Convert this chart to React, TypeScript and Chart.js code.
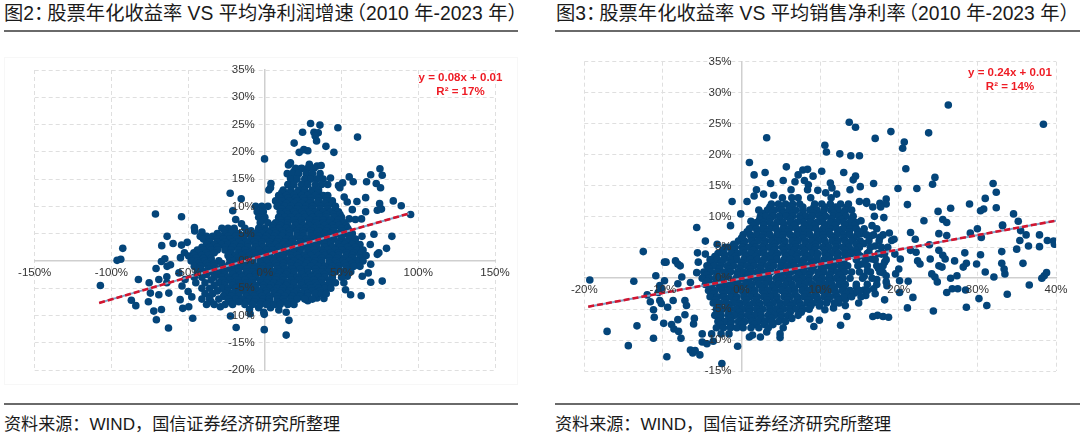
import React, { useEffect, useRef } from "react";
import { Chart, registerables } from "chart.js";

Chart.register(...registerables);

// ---- Figure 2: x = average net-profit growth (%), y = annualised return (%)
const leftScattered: number[][] = [
  [29.8,25.2],[35.9,24.9],[24.6,23.6],[47.6,24.4],[60.4,22.7],[32,23.6],[34.8,23.5],[32.8,22.9],[33.7,22],[39.8,21],[19.1,21.6],[45,19.9],[22.4,19.9],[25.4,20.4],[28,20.2],[-0.2,18.7],[16.7,18],[15.4,17.6],[34,17.4],[36.7,17.5],[29,17.7],
  [75,16.9],[76.5,15.7],[69,15.8],[66.3,14.5],[72.6,14.2],[75.4,13.4],[55,15.4],[57.6,14.5],[50.7,14.3],[48,13.8],[48.9,13.4],[42.8,15.2],[14.6,16],[18.9,16.4],[23.3,16.9],[16.7,15.2],[4,14.2],[3.7,13.4],[2.6,13],[-22.6,12.4],[-15.4,11.4],[-20.9,9.2],[-19,7.6],[-15.2,6.8],
  [-71.3,8.6],[-54.3,8.1],[-45.9,6.1],[-45.7,5.5],[-41,5.3],[-42.1,4.5],[-63.7,4.5],[-59.8,3.2],[-67.2,2.8],[-54.3,2.9],[-50.6,3.4],[-92.6,2.3],[-93.9,0.3],[-96.3,0.1],[-107.2,-4.5],[-82.4,-3.4],[-75.4,-4],[-70.9,-1.4],[-65.2,0.4],[-67.4,-0.1],[-63.7,-1],[-61.5,-0.7],[-69.1,-3.4],[-63.9,-2.9],[-63.9,-4],[-74.6,-5.9],[-69.1,-6.2],[-62.6,-5.9],[-87,-7.2],[-84.1,-8.2],[-75.9,-7.5],[-72.4,-9.2],[-67.4,-8.9],[-70.7,-10.8],[-62.8,-12.3],[-47,-10.5],[-55.2,-7.1],[-53.5,-8.7],[-49.6,-8.4],[-55,0.6],[-52.4,1.5],[-49.6,0.9],[-46.3,1.5],[-56,-2.2],[-52,-3.4],[-54,-4.6],[-50,-5.6],[-47.6,-6.6],
  [-22.4,-10.1],[-10,-8.9],[-9.6,-9.7],[-18.7,-12.2],[-0.7,-9.4],[-0.4,-9.8],[-0.4,-12.6],[13.9,-13.6],[15.7,-10.9],[13.9,-9.4],[9.1,-9],[3.7,-8.6],[-4,-8.6],[-29,-8.4],
  [95,8.5],[88.9,10.1],[83.7,11],[74.8,10.5],[73.3,9.3],[76,9.5],[65.7,11.6],[60,10.9],[51.7,11.7],[53.7,10.8],[57,9.4],[65.7,9],[63,7.7],[59,7.6],[55,7.7],[71.1,4.9],[63.3,4.5],[82.8,4.5],[79.3,2.3],[68.7,3],[73.3,1.2],[74.3,1.5],[69,-0.6],[67.4,-2.2],[63.5,-2.8],[55,-0.7],[59,-0.4],[69,-3.9],[76.5,-3.7],[62.8,-6.4],[55.9,-6.2],[52.6,-5.3],[51.5,-4],[53.7,-2.8],[38.5,-6.9],[34,-6.8],[28,-7.3],[22,-6.5],
];
// dense cloud, read as rows: first number is the return, the rest are growth values
const leftCloud: number[][] = [
  [17,20,24,28,32],
  [16,18,22,27,31,36],
  [15,17,21,26,30,34,38],
  [14,15,19,24,28,33,37,41],
  [13,12,17,22,26,31,35],
  [12.5,11,16,21,26,30,35],
  [12,9,14,19,24,28,33,38,41],
  [11.5,10,15,20,25,30,35,40],
  [11,7,11,16,21,26,30,35,40,44],
  [10.5,9,14,19,24,29,34,39,44],
  [10,-6,-2,2,8,13,17,22,27,31,36,41,46],
  [9.5,11,16,21,26,31,36,41,46],
  [9,-5,-1,10,14,19,24,29,33,38,43,48],
  [8.5,11,15,20,25,30,35,40,45,49],
  [8,-4,0,9,13,17,22,26,31,36,40,45,50],
  [7.5,-1,10,15,19,24,29,34,38,43,48],
  [7,-3,2,7,11,15,20,24,29,33,38,42,47,52],
  [6.5,5,10,15,20,25,29,34,39,44,48,53],
  [6,-28,-24,-20,-13,-4,0,5,9,14,18,23,27,32,36,41,45,50,54],
  [5.5,-26,-20,-9,-4,1,6,11,16,21,25,30,35,40,45,50,55],
  [5,-31,-26,-22,-17,-12,-7,-2,3,7,12,16,21,25,30,34,39,43,48,53,57],
  [4.5,-38,-34,-29,-24,-19,-14,-9,-4,1,6,11,16,21,25,30,35,40,45,50,55],
  [4,-40,-36,-31,-27,-23,-18,-14,-9,-5,0,5,9,14,18,23,27,32,36,41,45,50,55,59],
  [3.5,-36,-31,-26,-21,-17,-12,-7,-2,3,8,13,18,23,28,33,38,43,48,53,58],
  [3,-38,-33,-28,-24,-20,-15,-11,-6,-2,3,7,12,16,21,25,30,34,39,43,48,52,57,62],
  [2.5,-41,-36,-31,-26,-21,-16,-11,-6,-1,4,9,14,19,24,29,34,39,44,49,54,59],
  [2,-44,-40,-35,-31,-26,-22,-17,-13,-8,-4,1,5,10,14,19,23,28,32,37,41,46,50,55,60,64],
  [1.5,-43,-38,-33,-22,-17,-12,-7,-2,3,8,13,18,23,28,33,38,43,48,53,58,63],
  [1,-46,-41,-37,-24,-19,-15,-10,-6,-1,3,8,12,17,21,26,30,35,39,44,48,53,57,62,66],
  [0.5,-45,-40,-35,-23,-18,-13,-8,-3,2,7,12,17,22,27,32,37,42,47,52,57,62],
  [0,-48,-44,-39,-35,-30,-21,-17,-12,-8,-3,1,6,10,15,19,24,28,33,37,42,46,51,55,60,64],
  [-0.5,-43,-38,-33,-28,-23,-18,-13,-8,-3,2,7,12,17,22,27,32,37,42,47,52,57],
  [-1,-46,-42,-37,-33,-28,-24,-19,-15,-10,-6,-1,3,8,12,17,21,26,30,35,39,44,48,53,58,62],
  [-1.5,-42,-37,-32,-27,-22,-17,-12,-7,-2,3,8,13,18,23,28,33,38,43,48,53],
  [-2,-44,-39,-35,-30,-26,-21,-17,-12,-8,-3,1,6,10,15,19,24,28,33,37,42,46,51,56],
  [-2.5,-38,-31,-26,-21,-16,-11,-6,-1,4,9,14,19,24,29,34,39,44],
  [-3,-46,-41,-33,-28,-24,-19,-15,-10,-6,-1,3,8,12,17,21,26,30,35,39,44,50],
  [-3.5,-35,-28,-23,-18,-13,-8,-3,2,7,12,17,22,27,32,37,42],
  [-4,-45,-39,-30,-26,-21,-17,-12,-8,-3,1,6,10,15,19,24,28,33,37,42,46],
  [-4.5,-33,-26,-21,-16,-11,-6,-1,4,9,14,19,24,29,34,39],
  [-5,-41,-36,-28,-24,-19,-15,-10,-6,-1,3,8,12,17,21,26,30,35,39,43],
  [-5.5,-31,-24,-19,-14,-9,-4,1,6,11,16,21,26,31,36],
  [-6,-39,-34,-26,-21,-17,-12,-8,-3,1,6,10,15,19,24,28,33,37,40],
  [-6.5,-36,-27,-22,-17,-12,-7,-2,3,8,13,18,23,28],
  [-7,-41,-36,-30,-24,-19,-15,-10,-6,-1,3,8,12,17,21,26,31],
  [-7.5,-35,-23,-17,-12,-7,-2,3,8,13,17],
  [-8,-38,-33,-26,-21,-13,-8,-3,1,6,10,15,19],
];
const leftTrendX = [-108, 94];
const leftTrendY = [-7.7, 8.7];

// ---- Figure 3: x = average net sales margin (%), y = annualised return (%)
const rightScattered: number[][] = [
  [26.3,28],[38.4,24.9],[3.2,22.7],[13.7,25.2],[14.5,24.4],[19,23.7],[23.8,23.5],[17,22.6],[20.7,22],[20.5,21],[10.6,21.5],[10.8,20.4],[12.5,20.1],[13.9,19.8],[15,19.8],[1,18.7],[5.7,18],[3,17.1],[1.6,16.7],[20.9,17.7],[7.2,16.7],[7.8,17.5],[8.4,17.6],[10.2,17.3],[13,17.1],[9.1,16.5],[14.5,16.5],[14.2,15.9],[24.6,16.3],[24.3,15.2],[32,15.3],[16.8,15.3],[3.7,15.3],[5.3,15.8],[6.8,15.6],[8,15.8],[8.5,15.1],[11.3,15.4],[15.1,14.8],[19.9,14.5],[22.3,14.5],[32.4,13.9],[31,12.9],[1.9,14.3],[1.6,13.3],[2.8,13.6],[4.1,13.4],[6.3,14.3],[8.4,14.3],[9.7,14.2],[10.7,13.8],[11.5,14.6],[12.1,13.6],[13.8,14.3],
  [-1.2,12.4],[0.7,12.4],[-0.1,10.4],[15,12.4],[15.9,12.4],[15.9,12.1],[18.4,12.8],[18.4,12],[17.6,12.1],[16.7,11.5],[17.7,11.5],[21.1,11.9],[26.6,11.3],[29,12],[30.8,11.2],[30.4,10.9],[32.4,11.4],[25,10.8],[16.9,10],[18.1,9.8],[15.2,9.3],[23.2,9.3],[25.6,9.5],[26.1,9],[34.6,10.4],[35.2,9.2],[33.2,8.6],[16.6,8.5],[30,8],[-5.7,8.2],[-1.4,8.5],[1.2,9.2],
  [-4.6,6],[-3.1,5.5],[-2.1,5],[-12.5,4.3],[-5.6,4.1],[-4.6,3.9],[-9.8,2.6],[-9.6,2.6],[-8.4,2.8],[-8.1,2.3],[-7.8,2],[-5.5,2.6],[-10.9,0.4],[-19.3,-0.3],[-13.7,-0.5],[-9.8,-0.4],[-10.4,-1.2],[-10.2,-1.7],[-10.6,-2.3],[-7.6,0.2],[-8.1,-0.9],[-6.5,-0.7],[-5.7,0.9],[-12,-2.7],[-11.6,-3.8],[-10.4,-3.6],[-10.2,-4.1],[-9.4,-4.7],[-8.7,-3.6],[-7.2,-3.6],[-7,-4.4],[-11.2,-5.1],[-11.1,-6.3],[-7.2,-5.9],[-8.1,-6.7],[-9.9,-7.3],[-8.9,-7.5],[-8.6,-8.2],[-8,-8.6],[-7.7,-9.7],[-6,-6.5],[-6.1,-7.4],[-17.1,-8.6],[-13.3,-7.7],[-11.2,-9.7],[-14.4,-10.9],[-9.5,-12.7],[-6.5,-11.6],[-6.2,-12.1],[-5.9,-11.7],[-5.3,-12.4],[-5,-9],[-5,-10.3],[-4.4,-10.6],[-3.6,-10.2],[-2.5,-13.8],[-0.5,-11],[1,-9.5],[1.4,-9.2],[2.4,-9.5],[4.9,-9],[4.9,-9.6],[3.2,-8.7],[5.3,-8],[8.7,-6.6],[9.2,-7.8],[9.9,-6.8],[12.6,-7.6],[13.4,-6.2],[16.7,-6.2],[17.3,-6],[18,-6.2],[18.7,-6.3],[10.6,-5.1],[11.7,-4.8],[13.2,-4.4],[14.9,-4],[18.2,-3.5],[21.1,-4.8],[21.8,-3.1],[24.4,-5.3],[28.6,-4.7],[30.2,-3.3],[31.2,-4.4],[26.1,-2.3],[26.8,-1.7],[27.5,-1.7],[28.5,-1.9],[33.8,-2.6],[36.6,-1.1],[38.2,0],[38.5,0.4],[38.8,0.9],[32.1,0.2],[31,1],[33.5,0.7],[33.4,1.5],[33.1,2.4],[35.8,2.4],[29.9,2.3],[28.6,2.4],[28.2,1.8],[30.4,3.8],[28.4,4.1],[27.1,2.8],[33.1,4.3],[35,4.7],[36.5,5.2],[37.9,5.1],[35.4,6.1],[36.2,7],[37.9,7],[38.9,6.1],[39.7,6],[39.8,5.5],[30.5,6.6],[29.1,7.3],[33.2,8.5],[35.5,7.7],[25.1,7.2],[26.1,6.9],[23.9,5.4],[25.1,4.5],[25.6,3.7],[25.9,3.1],[24,3.1],[22.2,4.2],[22.4,2.8],[22.7,2.3],[21.5,7.4],[22.1,6.3],[21.5,4.5],[24.2,0.7],[24.6,0.2],[24.9,-0.6],[25.1,2],[25.5,1.8],[26.6,0],[27.4,0.4],[21.2,-0.5],[20.1,-0.4],[20,1.5],[19.6,0.7],[20.2,3.1],[19.5,3.9],[19.1,6.1],[18.8,7.3],[19.4,6.3],[18.4,0.4],[18.4,-0.6],[18.5,-1.2],[20.1,-2.3],
  [15.2,7.2],[16.4,6.8],[17.6,6.6],[15.6,5.6],[17,5.2],[16.2,4.2],[17.8,3.9],[15.1,3.6],[16.6,3.1],[18.2,2.6],[15.3,2.3],[17.4,1.6],[16,1.2],[18,0.9],[15.6,0.3],[17.2,-0.2],[14.6,-1.4],[15.6,-1.9],[16.8,-1.7],[14.4,-2.4],[15.8,-2.8],[17,-2.5],[13.2,-3.4],[12.4,-4],
];
const rightCloud: number[][] = [
  [13,5.2,6.4,7.2,8.8,11.4],
  [12,3.8,4.7,5.6,6.5,7.4,9.3,10.2,11.3,12.6,13.6],
  [11.5,3.6,5,6.4,7.8,9.2,10.6,12,13.4],
  [11,2.2,3.3,4.2,5.1,6,6.9,7.8,8.7,9.6,10.5,11.4,12.3,13.2,14],
  [10.5,2.6,3.9,5.2,6.5,7.8,9.1,10.4,11.7,13],
  [10,2.4,3.1,4,4.8,5.7,6.5,7.4,8.2,9,9.9,10.7,11.6,12.4,13.3,14.2],
  [9.5,2.3,3.6,4.9,6.2,7.5,8.8,10.1,11.4,12.7,14],
  [9,1.9,2.8,3.6,4.5,5.3,6.2,7,7.9,8.7,9.6,10.4,11.3,12.1,13,13.8,14.6],
  [8.5,1.5,2.8,4.1,5.4,6.7,8,9.3,10.6,11.9,13.2,14.4],
  [8,1,1.9,2.7,3.6,4.4,5.3,6.1,7,7.8,8.7,9.5,10.4,11.2,12.1,12.9,13.8,14.6,15.6,17.2],
  [7.5,0.7,2,3.3,4.6,5.9,7.2,8.5,9.8,11.1,12.4,13.7,15],
  [7,0.2,1.1,1.9,2.8,3.6,4.5,5.3,6.2,7,7.9,8.7,9.6,10.4,11.3,12.1,13,13.8,14.7,15.9,16.8,18],
  [6.5,0,1.3,2.6,3.9,5.2,6.5,7.8,9.1,10.4,11.7,13,14.3],
  [6,-0.4,0.4,1.3,2.1,3,3.8,4.7,5.5,6.4,7.2,8.1,8.9,9.8,10.6,11.5,12.3,13.2,14,15.1,16.2,17.5],
  [5.5,-1,0.3,1.6,2.9,4.2,5.5,6.8,8.1,9.4,10.7,12,13.3,14.6],
  [5,-1.6,-0.8,0.1,0.9,1.8,2.6,3.5,4.3,5.2,6,6.9,7.7,8.6,9.4,10.3,11.1,12,12.8,13.7,15,16.4,17.8,18.6],
  [4.5,-2.4,-1.1,0.2,1.5,2.8,4.1,5.4,6.7,8,9.3,10.6,11.9,13.2,14.5],
  [4,-3,-2.2,-1.3,-0.5,0.4,1.2,2.1,2.9,3.8,4.6,5.5,6.3,7.2,8,8.9,9.7,10.6,11.4,12.3,13.1,14,14.8,16,17.4,18.2],
  [3.5,-3.4,-2.1,-0.8,0.5,1.8,3.1,4.4,5.7,7,8.3,9.6,10.9,12.2,13.5],
  [3,-4,-3.1,-2.3,-1.4,-0.6,0.3,1.1,2,2.8,3.7,4.5,5.4,6.2,7.1,7.9,8.8,9.6,10.5,11.3,12.2,13,14.6,15.8,17,18.4],
  [2.5,-3.9,-2.6,-1.3,0,1.3,2.6,3.9,5.2,6.5,7.8,9.1,10.4,11.7,13],
  [2,-4.4,-3.5,-2.7,-1.8,-1,-0.1,0.7,1.6,2.4,3.3,4.1,5,5.8,6.7,7.5,8.4,9.2,10.1,10.9,11.8,12.6,13.5,14.8,16,17.2,18],
  [1.5,-4.1,-2.8,-1.5,-0.2,1.1,2.4,3.7,5,6.3,7.6,8.9,10.2,11.5,12.8],
  [1,-4.8,-3.9,-3.1,-2.2,-1.4,-0.5,0.3,1.2,2,2.9,3.7,4.6,5.4,6.3,7.1,8,8.8,9.7,10.5,11.4,12.2,13.1,14,15,16.4,17.6],
  [0.5,-4.4,-3.1,-1.8,-0.5,0.8,2.1,3.4,4.7,6,7.3,8.6,9.9,11.2,12.5],
  [0,-5,-4.1,-3.3,-2.4,-1.6,-0.7,0.1,1,1.8,2.7,3.5,4.4,5.2,6.1,6.9,7.8,8.6,9.5,10.3,11.2,12,12.9,13.8,15.4,16.6],
  [-0.5,-4.4,-3.1,-1.8,-0.5,0.8,2.1,3.4,4.7,6,7.3,8.6,9.9,11.2,12.5],
  [-1,-4.6,-3.8,-2.9,-2.1,-1.2,-0.4,0.5,1.3,2.2,3,3.9,4.7,5.6,6.4,7.3,8.1,9,9.8,10.7,11.5,12.4,13.2,14.6,16,17.2],
  [-1.5,-3.9,-2.6,-1.3,0,1.3,2.6,3.9,5.2,6.5,7.8,9.1,10.4,11.7,13],
  [-2,-4.2,-3.4,-2.5,-1.7,-0.8,0,0.9,1.7,2.6,3.4,4.3,5.1,6,6.8,7.7,8.5,9.4,10.2,11.1,11.9,12.8,13.8,15,16],
  [-2.5,-3.6,-2.3,-1,0.3,1.6,2.9,4.2,5.5,6.8,8.1,9.4,10.7,12,13.3],
  [-3,-4,-3.1,-2.3,-1.4,-0.6,0.3,1.1,2,2.8,3.7,4.5,5.4,6.2,7.1,7.9,8.8,9.6,10.5,11.3,12.2,13,14,15.2],
  [-3.5,-3.3,-2,-0.7,0.6,1.9,3.2,4.5,5.8,7.1,8.4,9.7,11,12.3],
  [-4,-3.6,-2.8,-1.9,-1.1,-0.2,0.6,1.5,2.3,3.2,4,4.9,5.7,6.6,7.4,8.3,9.1,10,10.8,11.8],
  [-4.5,-2.9,-1.6,-0.3,1,2.3,3.6,4.9,6.2,7.5,8.8,9.9],
  [-5,-3.2,-2.4,-1.5,-0.7,0.2,1,1.9,2.7,3.6,4.4,5.3,6.1,7,7.8,8.6],
  [-5.5,-2.9,-1.6,-0.3,1,2.3,3.6,4.9,6.2,7.6],
  [-6,-3.4,-2.6,-1.7,-0.9,0,0.8,1.7,2.5,3.4,4.2,5.1,5.9,7.2],
  [-6.5,-2.7,-1.4,-0.1,1.2,2.5,3.8,5,6.4],
  [-7,-3,-2.1,-1.3,-0.4,0.4,1.3,2.1,3,3.8,4.7,5.6],
  [-7.5,-2.7,-1.4,0,1.6,2.9,4],
  [-8,-3.2,-2.3,-1.4,-0.6,0.2,1.2,2.2,3.4],
  [-9,-3.8,-2.6,-1.6],
];
const rightTrendX = [-19.5, 40];
const rightTrendY = [-4.6, 9.3];

const titleLeft = ["图2", "：", "股票年化收益率 VS 平均净利润增速", "（", "2010 年-2023 年）"];
const titleRight = ["图3", "：", "股票年化收益率 VS 平均销售净利率", "（", "2010 年-2023 年）"];
const sourceText = "资料来源：WIND，国信证券经济研究所整理";
const equationLeft = ["y = 0.08x + 0.01", "R² = 17%"];
const equationRight = ["y = 0.24x + 0.01", "R² = 14%"];

const latinCjk = '"Liberation Sans", "Noto Sans CJK SC", sans-serif';

type PanelProps = {
  scattered: number[][];
  cloud: number[][];
  trendX: number[];
  trendY: number[];
  xMin: number; xMax: number; xStep: number;
  yMin: number; yMax: number;
  padding: { left: number; right: number; top: number; bottom: number };
};

// Axes placed at a data value ignore ticks.padding, so the gap is applied here.
const labelGap = {
  id: "labelGap",
  beforeDraw(chart: any) {
    for (const [id, dx, dy] of [["x", 0, 2], ["y", -10, 0]] as [string, number, number][]) {
      const scale = chart.scales[id];
      for (const item of scale.getLabelItems(chart.chartArea)) {
        if (item.__moved) continue;
        item.__moved = true;
        item.options.translation = [item.options.translation[0] + dx, item.options.translation[1] + dy];
      }
    }
  },
};

function Panel(p: PanelProps) {
  const ref = useRef<HTMLCanvasElement>(null);
  useEffect(() => {
    const points = [
      ...p.scattered.map(([x, y]) => ({ x, y })),
      ...p.cloud.flatMap(([y, ...xs]) => xs.map((x) => ({ x, y }))),
    ];
    const trend = p.trendX.map((x, i) => ({ x, y: p.trendY[i] }));
    const axis = (min: number, max: number, step: number, cross: string) => ({
      type: "linear" as const,
      min, max,
      position: { [cross]: 0 } as any,
      border: { color: "#cfcfcf", width: 1.5, dash: [4, 3] },
      grid: {
        color: (c: any) => (c.tick && c.tick.value === 0 ? "rgba(0,0,0,0)" : "#dfdfdf"),
        lineWidth: 1,
        drawTicks: false,
      },
      ticks: {
        stepSize: step,
        z: 1,
        maxRotation: 0,
        autoSkip: false,
        color: "#333",
        font: { family: '"Liberation Sans"', size: 11.5 },
        callback: (v: any) => `${v}%`,
      },
    });
    const chart = new Chart(ref.current!, {
      type: "scatter",
      plugins: [labelGap],
      data: {
        datasets: [
          { type: "line", data: trend, borderColor: "#d3142f", borderWidth: 2.6, borderDash: [6, 3], pointRadius: 0, order: 0, fill: false } as any,
          { type: "line", data: trend, borderColor: "#7fa3c7", borderWidth: 2, pointRadius: 0, order: 1, fill: false } as any,
          { data: points, backgroundColor: "#04457a", borderColor: "#04457a", pointRadius: 3.8, borderWidth: 0, order: 2 },
        ],
      },
      options: {
        animation: false,
        responsive: false,
        layout: { padding: p.padding },
        plugins: { legend: { display: false }, tooltip: { enabled: false } },
        scales: {
          x: axis(p.xMin, p.xMax, p.xStep, "y"),
          y: axis(p.yMin, p.yMax, 5, "x"),
        },
      },
    });
    return () => chart.destroy();
  }, []);
  return <canvas ref={ref} width={540} height={350} style={{ display: "block", width: 540, height: 350 }} />;
}

function Text({ left, top, children, style }: any) {
  return (
    <div style={{ position: "absolute", left, top, whiteSpace: "nowrap", fontFamily: latinCjk, color: "#1a1a1a", ...style }}>
      {children}
    </div>
  );
}
// The full-width colon and opening bracket are set tight, as in the source.
const title = (left: number, parts: string[]) => (
  <Text left={left} top={2} style={{ fontSize: 19.3, lineHeight: "24px" }}>
    {parts[0]}
    <span style={{ letterSpacing: -6 }}>{parts[1]}</span>
    {parts[2]}
    <span style={{ marginLeft: -7 }}>{parts[3]}</span>
    {parts[4]}
  </Text>
);
const rule = (left: number, width: number, top: number) => (
  <div style={{ position: "absolute", left, width, top, height: 2, background: "#6a6a6a" }} />
);
const equation = (cx: number, top: number, lines: string[]) => (
  <div style={{ position: "absolute", left: cx - 70, width: 140, top, textAlign: "center", fontFamily: '"Liberation Sans"', fontWeight: 700, fontSize: 11.5, lineHeight: "14px", color: "#ee1c25", zIndex: 3 }}>
    {lines[0]}<br />{lines[1]}
  </div>
);

export default function App() {
  useEffect(() => { document.body.style.margin = "0"; document.body.style.background = "#fff"; }, []);
  return (
    <div style={{ position: "relative", width: 1080, height: 436, overflow: "hidden", background: "#fff" }}>
      {title(4, titleLeft)}
      {title(556, titleRight)}
      {rule(4, 514, 30)}
      {rule(555, 525, 30)}
      <div style={{ position: "absolute", left: 4, top: 57, width: 514, height: 328, border: "1px solid #f7f7f7", boxSizing: "border-box" }} />
      <div style={{ position: "absolute", left: 0, top: 40 }}>
        <Panel scattered={leftScattered} cloud={leftCloud} trendX={leftTrendX} trendY={leftTrendY}
          xMin={-150} xMax={150} xStep={50} yMin={-20} yMax={35}
          padding={{ left: 34.7, right: 45, top: 30, bottom: 20 }} />
      </div>
      <div style={{ position: "absolute", left: 540, top: 40 }}>
        <Panel scattered={rightScattered} cloud={rightCloud} trendX={rightTrendX} trendY={rightTrendY}
          xMin={-20} xMax={40} xStep={10} yMin={-15} yMax={35}
          padding={{ left: 44.3, right: 24, top: 21.7, bottom: 19 }} />
      </div>
      {equation(460.5, 70, equationLeft)}
      {equation(1010, 65, equationRight)}
      {rule(4, 514, 403)}
      {rule(555, 525, 403)}
      <Text left={4} top={413} style={{ fontSize: 17.1, lineHeight: "24px" }}>{sourceText}</Text>
      <Text left={555} top={413} style={{ fontSize: 17.1, lineHeight: "24px" }}>{sourceText}</Text>
    </div>
  );
}
